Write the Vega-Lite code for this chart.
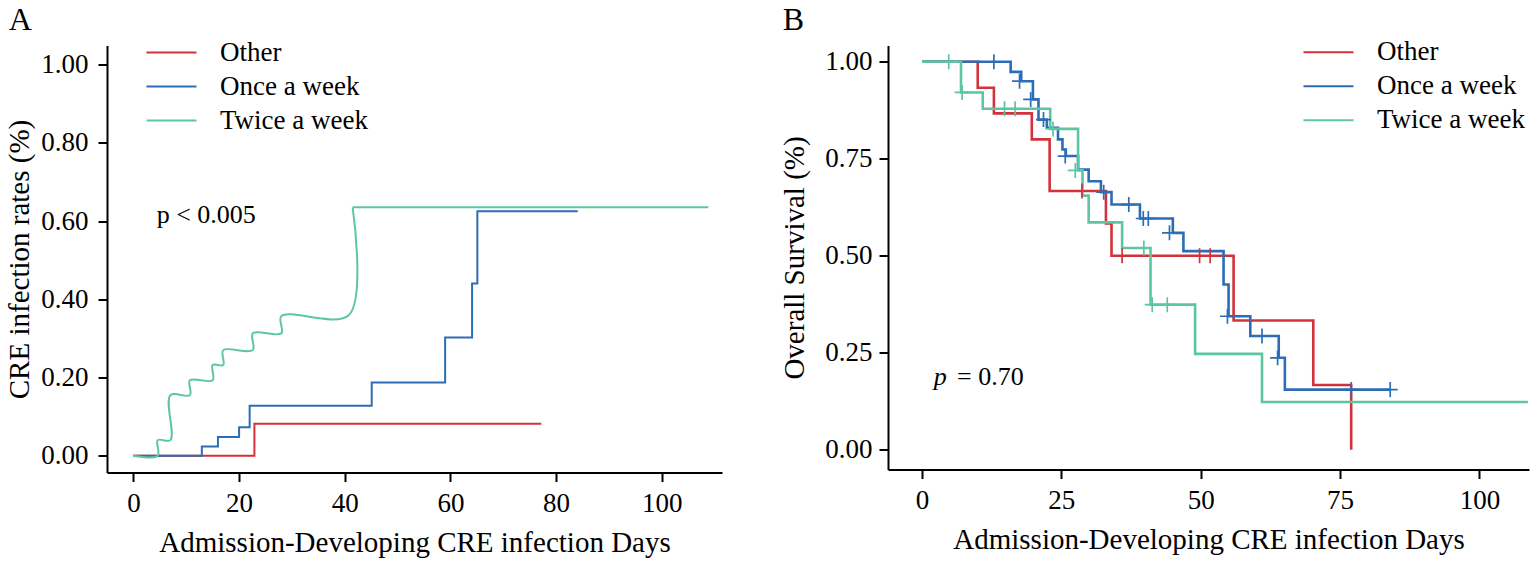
{
  "$schema": "https://vega.github.io/schema/vega-lite/v6.json",
  "padding": {"left": 5, "top": 3.5, "right": 2, "bottom": 1},
  "background": "white",
  "config": {
    "view": {"stroke": null},
    "font": "Liberation Serif",
    "title": {"font": "Liberation Serif", "fontSize": 32, "fontWeight": "normal", "anchor": "start", "color": "black"},
    "axis": {
      "domainColor": "black", "domainWidth": 2, "tickColor": "black", "tickWidth": 2, "tickSize": 9,
      "labelFont": "Liberation Serif", "labelFontSize": 27, "labelColor": "black", "labelPadding": 9,
      "titleFont": "Liberation Serif", "titleFontSize": 29, "titleFontWeight": "normal", "titleColor": "black",
      "grid": false
    },
    "legend": {
      "orient": "none", "title": null, "labelFont": "Liberation Serif", "labelFontSize": 27, "labelColor": "black",
      "symbolType": "M-1.43,0H1.43", "symbolSize": 1225, "symbolStrokeWidth": 2, "rowPadding": 2, "padding": 0, "labelOffset": 30
    }
  },
  "datasets": {
    "aSteps": [
      {"group": "Other", "day": 0, "rate": 0},
      {"group": "Other", "day": 22.9, "rate": 0.082},
      {"group": "Other", "day": 77.2, "rate": 0.082},
      {"group": "Once a week", "day": 0, "rate": 0},
      {"group": "Once a week", "day": 12.95, "rate": 0.024},
      {"group": "Once a week", "day": 16, "rate": 0.048},
      {"group": "Once a week", "day": 20, "rate": 0.073},
      {"group": "Once a week", "day": 22, "rate": 0.128},
      {"group": "Once a week", "day": 45.1, "rate": 0.187},
      {"group": "Once a week", "day": 59, "rate": 0.302},
      {"group": "Once a week", "day": 64.1, "rate": 0.44},
      {"group": "Once a week", "day": 65.1, "rate": 0.625},
      {"group": "Once a week", "day": 84.1, "rate": 0.625}
    ],
    "aGreen": [
      {"group": "Twice a week", "day": 0, "rate": 0},
      {"group": "Twice a week", "day": 4.6, "rate": 0},
      {"group": "Twice a week", "day": 4.6, "rate": 0.04},
      {"group": "Twice a week", "day": 7, "rate": 0.04},
      {"group": "Twice a week", "day": 7, "rate": 0.155},
      {"group": "Twice a week", "day": 10.7, "rate": 0.155},
      {"group": "Twice a week", "day": 10.7, "rate": 0.193},
      {"group": "Twice a week", "day": 15, "rate": 0.193},
      {"group": "Twice a week", "day": 15, "rate": 0.232},
      {"group": "Twice a week", "day": 17, "rate": 0.232},
      {"group": "Twice a week", "day": 17, "rate": 0.27},
      {"group": "Twice a week", "day": 22.6, "rate": 0.27},
      {"group": "Twice a week", "day": 22.6, "rate": 0.313},
      {"group": "Twice a week", "day": 28, "rate": 0.313},
      {"group": "Twice a week", "day": 28, "rate": 0.357},
      {"group": "Twice a week", "day": 40.8, "rate": 0.36},
      {"group": "Twice a week", "day": 41.5, "rate": 0.635}
    ],
    "aGreenTail": [
      {"group": "Twice a week", "day": 41.5, "rate": 0.635},
      {"group": "Twice a week", "day": 108.8, "rate": 0.635}
    ],
    "bSteps": [
      {"group": "Other", "day": 0, "surv": 1},
      {"group": "Other", "day": 10, "surv": 0.933},
      {"group": "Other", "day": 12.9, "surv": 0.867},
      {"group": "Other", "day": 19.7, "surv": 0.8},
      {"group": "Other", "day": 22.9, "surv": 0.667},
      {"group": "Other", "day": 33, "surv": 0.583},
      {"group": "Other", "day": 34, "surv": 0.5},
      {"group": "Other", "day": 55.9, "surv": 0.333},
      {"group": "Other", "day": 70.2, "surv": 0.167},
      {"group": "Other", "day": 77, "surv": 0},
      {"group": "Once a week", "day": 0, "surv": 1},
      {"group": "Once a week", "day": 15.9, "surv": 0.974},
      {"group": "Once a week", "day": 17.8, "surv": 0.95},
      {"group": "Once a week", "day": 19.9, "surv": 0.903},
      {"group": "Once a week", "day": 20.9, "surv": 0.851},
      {"group": "Once a week", "day": 22.4, "surv": 0.83},
      {"group": "Once a week", "day": 24.4, "surv": 0.8},
      {"group": "Once a week", "day": 25.2, "surv": 0.774},
      {"group": "Once a week", "day": 25.8, "surv": 0.757},
      {"group": "Once a week", "day": 28, "surv": 0.722},
      {"group": "Once a week", "day": 29.9, "surv": 0.692},
      {"group": "Once a week", "day": 32.1, "surv": 0.664},
      {"group": "Once a week", "day": 34, "surv": 0.632},
      {"group": "Once a week", "day": 39.1, "surv": 0.596},
      {"group": "Once a week", "day": 45, "surv": 0.559},
      {"group": "Once a week", "day": 46.9, "surv": 0.512},
      {"group": "Once a week", "day": 54.1, "surv": 0.426},
      {"group": "Once a week", "day": 55, "surv": 0.344},
      {"group": "Once a week", "day": 58.9, "surv": 0.293},
      {"group": "Once a week", "day": 64, "surv": 0.237},
      {"group": "Once a week", "day": 65.1, "surv": 0.155},
      {"group": "Once a week", "day": 84, "surv": 0.155},
      {"group": "Twice a week", "day": 0, "surv": 1},
      {"group": "Twice a week", "day": 7, "surv": 0.921},
      {"group": "Twice a week", "day": 10.9, "surv": 0.879},
      {"group": "Twice a week", "day": 23, "surv": 0.827},
      {"group": "Twice a week", "day": 28, "surv": 0.72},
      {"group": "Twice a week", "day": 28.8, "surv": 0.655},
      {"group": "Twice a week", "day": 29.9, "surv": 0.586},
      {"group": "Twice a week", "day": 35.9, "surv": 0.52},
      {"group": "Twice a week", "day": 41, "surv": 0.374},
      {"group": "Twice a week", "day": 49, "surv": 0.247},
      {"group": "Twice a week", "day": 61, "surv": 0.123},
      {"group": "Twice a week", "day": 108.7, "surv": 0.123}
    ],
    "bCensor": [
      {"group": "Other", "day": 28.7, "surv": 0.667},
      {"group": "Other", "day": 35.9, "surv": 0.5},
      {"group": "Other", "day": 49.8, "surv": 0.5},
      {"group": "Other", "day": 51.7, "surv": 0.5},
      {"group": "Once a week", "day": 12.9, "surv": 1},
      {"group": "Once a week", "day": 17.5, "surv": 0.95},
      {"group": "Once a week", "day": 19.5, "surv": 0.903},
      {"group": "Once a week", "day": 21.8, "surv": 0.851},
      {"group": "Once a week", "day": 25.7, "surv": 0.757},
      {"group": "Once a week", "day": 32.6, "surv": 0.664},
      {"group": "Once a week", "day": 37.1, "surv": 0.632},
      {"group": "Once a week", "day": 39.7, "surv": 0.596},
      {"group": "Once a week", "day": 40.6, "surv": 0.596},
      {"group": "Once a week", "day": 44.4, "surv": 0.559},
      {"group": "Once a week", "day": 54.8, "surv": 0.344},
      {"group": "Once a week", "day": 61, "surv": 0.293},
      {"group": "Once a week", "day": 63.8, "surv": 0.237},
      {"group": "Once a week", "day": 77, "surv": 0.155},
      {"group": "Once a week", "day": 84, "surv": 0.155},
      {"group": "Twice a week", "day": 4.8, "surv": 1},
      {"group": "Twice a week", "day": 7.2, "surv": 0.921},
      {"group": "Twice a week", "day": 14.8, "surv": 0.879},
      {"group": "Twice a week", "day": 16.7, "surv": 0.879},
      {"group": "Twice a week", "day": 23.5, "surv": 0.827},
      {"group": "Twice a week", "day": 27.5, "surv": 0.72},
      {"group": "Twice a week", "day": 39.8, "surv": 0.52},
      {"group": "Twice a week", "day": 41.3, "surv": 0.374},
      {"group": "Twice a week", "day": 44, "surv": 0.374}
    ],
    "aNote": [{"day": 4.4, "rate": 0.595, "label": "p < 0.005"}],
    "bNoteP": [{"day": 2.1, "surv": 0.168, "label": "p"}],
    "bNoteV": [{"day": 6.3, "surv": 0.168, "label": "= 0.70"}]
  },
  "hconcat": [
    {
      "title": {"text": "A", "dx": 3, "offset": -3},
      "width": 615,
      "height": 427,
      "layer": [
        {
          "data": {"name": "aSteps"},
          "mark": {"type": "line", "interpolate": "step-after", "strokeWidth": 2},
          "encoding": {
            "x": {"field": "day", "type": "quantitative", "scale": {"domain": [-5, 111.4], "nice": false, "zero": false},
                  "axis": {"values": [0, 20, 40, 60, 80, 100], "title": "Admission-Developing CRE infection Days", "titlePadding": 12}},
            "y": {"field": "rate", "type": "quantitative", "scale": {"domain": [-0.0427, 1.0485], "nice": false, "zero": false},
                  "axis": {"values": [0, 0.2, 0.4, 0.6, 0.8, 1.0], "format": ".2f", "title": "CRE infection rates (%)", "titlePadding": 6, "labelPadding": 10}},
            "color": {"field": "group", "type": "nominal",
                      "scale": {"domain": ["Other", "Once a week", "Twice a week"], "range": ["#D0333B", "#2C6DB5", "#5CC6A2"]},
                      "legend": {"legendX": 46, "legendY": -11.5}}
          }
        },
        {
          "data": {"name": "aGreen"},
          "mark": {"type": "line", "interpolate": "catmull-rom", "strokeWidth": 2},
          "encoding": {
            "x": {"field": "day", "type": "quantitative"},
            "y": {"field": "rate", "type": "quantitative"},
            "color": {"field": "group", "type": "nominal"},
            "order": {"value": 0}
          }
        },
        {
          "data": {"name": "aGreenTail"},
          "mark": {"type": "line", "strokeWidth": 2},
          "encoding": {
            "x": {"field": "day", "type": "quantitative"},
            "y": {"field": "rate", "type": "quantitative"},
            "color": {"field": "group", "type": "nominal"}
          }
        },
        {
          "data": {"name": "aNote"},
          "mark": {"type": "text", "align": "left", "baseline": "alphabetic", "fontSize": 26, "font": "Liberation Serif", "color": "black"},
          "encoding": {
            "x": {"field": "day", "type": "quantitative"},
            "y": {"field": "rate", "type": "quantitative"},
            "text": {"field": "label"}
          }
        }
      ]
    },
    {
      "title": {"text": "B", "dx": 2, "offset": -3},
      "width": 641,
      "height": 424,
      "layer": [
        {
          "data": {"name": "bSteps"},
          "mark": {"type": "line", "interpolate": "step-after", "strokeWidth": 2.6},
          "encoding": {
            "x": {"field": "day", "type": "quantitative", "scale": {"domain": [-6.1, 108.9], "nice": false, "zero": false},
                  "axis": {"values": [0, 25, 50, 75, 100], "title": "Admission-Developing CRE infection Days", "titlePadding": 12}},
            "y": {"field": "surv", "type": "quantitative", "scale": {"domain": [-0.051, 1.042], "nice": false, "zero": false},
                  "axis": {"values": [0, 0.25, 0.5, 0.75, 1.0], "format": ".2f", "title": "Overall Survival (%)", "titlePadding": 15, "labelPadding": 7}},
            "color": {"field": "group", "type": "nominal",
                      "scale": {"domain": ["Other", "Once a week", "Twice a week"], "range": ["#D0333B", "#2C6DB5", "#5CC6A2"]},
                      "legend": {"legendX": 422, "legendY": -11.8}}
          }
        },
        {
          "data": {"name": "bCensor"},
          "mark": {"type": "point", "shape": "M-1,0H1M0,-1V1", "filled": false, "strokeWidth": 1.7, "size": 225, "opacity": 1},
          "encoding": {
            "x": {"field": "day", "type": "quantitative"},
            "y": {"field": "surv", "type": "quantitative"},
            "color": {"field": "group", "type": "nominal"}
          }
        },
        {
          "data": {"name": "bNoteP"},
          "mark": {"type": "text", "align": "left", "baseline": "alphabetic", "fontSize": 26, "font": "Liberation Serif", "fontStyle": "italic", "color": "black"},
          "encoding": {
            "x": {"field": "day", "type": "quantitative"},
            "y": {"field": "surv", "type": "quantitative"},
            "text": {"field": "label"}
          }
        },
        {
          "data": {"name": "bNoteV"},
          "mark": {"type": "text", "align": "left", "baseline": "alphabetic", "fontSize": 26, "font": "Liberation Serif", "color": "black"},
          "encoding": {
            "x": {"field": "day", "type": "quantitative"},
            "y": {"field": "surv", "type": "quantitative"},
            "text": {"field": "label"}
          }
        }
      ]
    }
  ],
  "spacing": 58,
  "resolve": {"scale": {"color": "independent"}, "legend": {"color": "independent"}}
}
